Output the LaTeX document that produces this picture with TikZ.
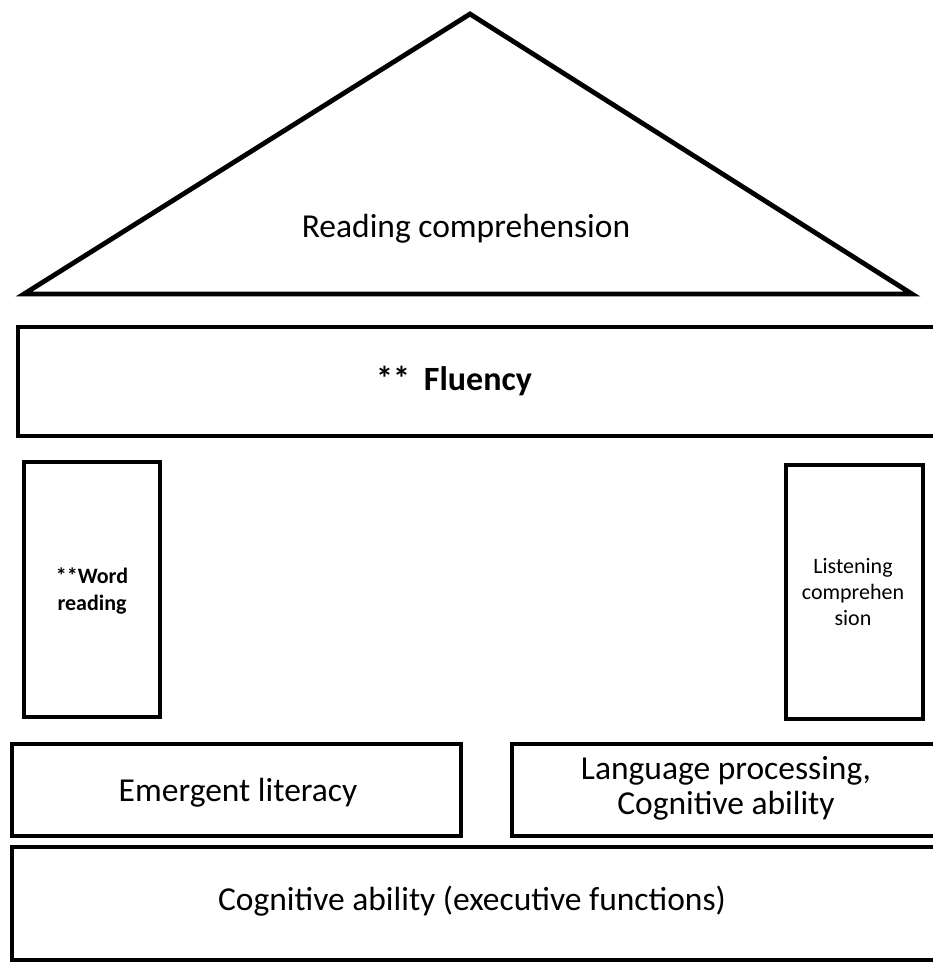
\documentclass[tikz,border=0pt]{standalone}
\usepackage{fontspec}
\setmainfont{Carlito}
\begin{document}
\begin{tikzpicture}[x=1pt,y=-1pt,
  frame/.style={draw=black,line width=4.8pt,line join=miter},
  label/.style={inner sep=0pt,anchor=base,align=center,font=\fontsize{33.5}{35}\selectfont},
  small/.style={inner sep=0pt,anchor=base,align=center,font=\fontsize{22}{26}\selectfont}]
\useasboundingbox (0,0) rectangle (932,963);
% roof
\coordinate (apex) at (470,14);
\coordinate (baseL) at (24,294);
\coordinate (baseR) at (912,294);
\draw[frame] (apex) -- (baseR) -- (baseL) -- cycle;
\node[label] (roof) at (466,237) {Reading comprehension};
% fluency beam
\draw[frame] (18,327) rectangle (950,436);
\node[label,font=\bfseries\fontsize{34}{36}\selectfont] (fluency) at (454,390) {**\hspace{14pt}Fluency};
% pillars (base anchor sits on the last line)
\draw[frame] (24,462) rectangle (160,717);
\node[small,font=\bfseries\fontsize{22}{27}\selectfont] (word) at (92,610) {**Word\\reading};
\draw[frame] (786,465) rectangle (923,719);
\node[small] (listen) at (853,625) {Listening\\comprehen\\sion};
% foundations
\draw[frame] (12,744) rectangle (461,836);
\node[label] (emergent) at (238,801) {Emergent literacy};
\draw[frame] (512,744) rectangle (950,836);
\node[label] (language) at (726,814) {Language processing,\\Cognitive ability};
\draw[frame] (12,847) rectangle (950,960);
\node[label] (cognitive) at (472,910) {Cognitive ability (executive functions)};
\end{tikzpicture}
\end{document}
